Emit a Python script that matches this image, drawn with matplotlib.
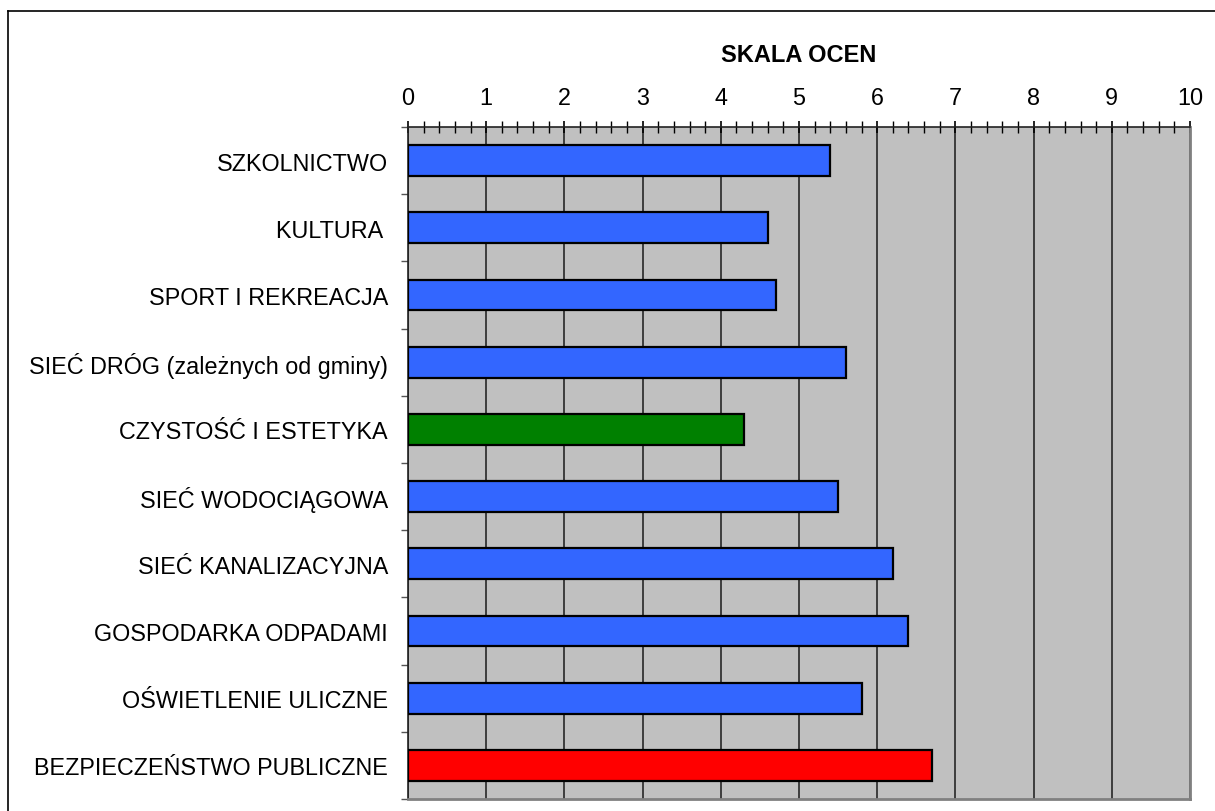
import matplotlib
matplotlib.use("Agg")
import matplotlib.pyplot as plt
from matplotlib.lines import Line2D
from matplotlib.ticker import MultipleLocator

plt.rcParams["font.family"] = ["Liberation Sans", "DejaVu Sans"]

kategorie = [
    "SZKOLNICTWO",
    "KULTURA ",
    "SPORT I REKREACJA",
    "SIEĆ DRÓG (zależnych od gminy)",
    "CZYSTOŚĆ I ESTETYKA",
    "SIEĆ WODOCIĄGOWA",
    "SIEĆ KANALIZACYJNA",
    "GOSPODARKA ODPADAMI",
    "OŚWIETLENIE ULICZNE",
    "BEZPIECZEŃSTWO PUBLICZNE",
]
oceny = [5.4, 4.6, 4.7, 5.6, 4.3, 5.5, 6.2, 6.4, 5.8, 6.7]
kolory = ["#3366FF"] * 4 + ["#008000"] + ["#3366FF"] * 4 + ["#FF0000"]

fig = plt.figure(figsize=(12.15, 8.12), dpi=100)
ax = fig.add_axes([408 / 1215, 12 / 812, 782 / 1215, 672 / 812])

pozycje = list(range(len(kategorie)))
ax.barh(pozycje, oceny, height=0.46, color=kolory, edgecolor="black",
        linewidth=1.6, zorder=3)

ax.set_facecolor("#C0C0C0")
ax.set_xlim(0, 10)
ax.set_ylim(len(kategorie) - 0.5, -0.5)

# skala na górze
ax.xaxis.tick_top()
ax.xaxis.set_major_locator(MultipleLocator(1))
ax.xaxis.set_minor_locator(MultipleLocator(0.2))
ax.tick_params(axis="x", which="major", direction="inout", length=9,
               width=1.2, pad=8.5, labelsize=16.8)
ax.tick_params(axis="x", which="minor", direction="inout", length=9,
               width=1.0, top=True)
ax.grid(axis="x", which="major", color="#333333", linewidth=1.3, zorder=1)

# kreski między kategoriami
ax.set_yticks(pozycje)
ax.set_yticklabels(kategorie)
ax.set_yticks([p + 0.5 for p in range(-1, len(kategorie))], minor=True)
ax.tick_params(axis="y", which="major", length=0, pad=14.4, labelsize=16.8)
ax.tick_params(axis="y", which="minor", direction="out", length=5,
               width=1.0, color="#555555")

for bok in ["top", "left"]:
    ax.spines[bok].set_color("#222222")
    ax.spines[bok].set_linewidth(1.2)
for bok in ["right", "bottom"]:
    ax.spines[bok].set_color("#808080")
    ax.spines[bok].set_linewidth(2.0)

fig.text((408 + 1190) / 2 / 1215, 1 - 55 / 812, "SKALA OCEN",
         ha="center", va="center", fontsize=17, fontweight="bold")

# ramka wykresu
x0, y0 = 7.5 / 1215, 1 - 11.5 / 812
fig.add_artist(Line2D([x0, x0], [0, y0], color="black", linewidth=1.2))
fig.add_artist(Line2D([x0, 1], [y0, y0], color="black", linewidth=1.2))

fig.savefig("out.png", dpi=100)
